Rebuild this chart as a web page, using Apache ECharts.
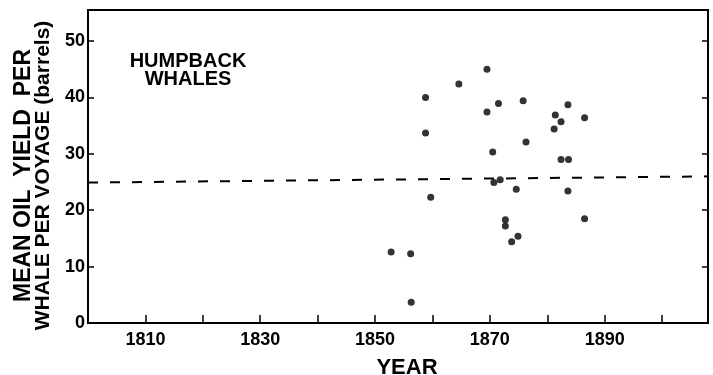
<!DOCTYPE html>
<html>
<head>
<meta charset="utf-8">
<script src="https://cdn.jsdelivr.net/npm/echarts@6/dist/echarts.min.js"></script>
<style>
html,body{margin:0;padding:0;background:#fff;}
#c{width:713px;height:375px;}
</style>
</head>
<body>
<div id="c"></div>
<script>
// Humpback whales: year, mean oil yield per whale per voyage (barrels)
const years = [1852.8, 1856.2, 1856.3, 1858.8, 1858.8, 1859.7, 1864.6, 1869.5, 1869.5, 1870.5,
               1870.7, 1871.5, 1871.8, 1872.7, 1872.7, 1873.8, 1874.6, 1874.9, 1875.8, 1876.3,
               1881.4, 1882.4, 1883.6, 1881.2, 1882.4, 1883.7, 1883.6, 1886.5, 1886.5];
const yields = [12.6, 12.3, 3.7, 40.0, 33.7, 22.3, 42.4, 45.0, 37.4, 30.3,
                24.9, 38.9, 25.4, 18.3, 17.2, 14.4, 23.7, 15.4, 39.4, 32.1,
                36.9, 35.7, 38.7, 34.4, 29.0, 29.0, 23.4, 36.4, 18.5];
// Dashed reference (trend) line end points
const trendYears = [1800, 1908];
const trendValues = [24.9, 26.0];
// Axis ticks and labels
const xTicks = [1810, 1820, 1830, 1840, 1850, 1860, 1870, 1880, 1890, 1900];
const xLabels = [1810, 1830, 1850, 1870, 1890];
const yTicks = [0, 10, 20, 30, 40, 50];

const points = years.map((y, i) => [y, yields[i]]);
const trend = trendYears.map((y, i) => [y, trendValues[i]]);

const chart = echarts.init(document.getElementById('c'));
const font = 'Liberation Sans';
chart.setOption({
  animation: false,
  backgroundColor: '#fff',
  grid: { left: 88, right: 5, top: 10, bottom: 52, containLabel: false, outerBoundsMode: 'none',
          show: true, borderColor: '#000', borderWidth: 2, backgroundColor: 'transparent' },
  xAxis: {
    type: 'value', min: 1800, max: 1908,
    name: 'YEAR', nameLocation: 'middle', nameGap: 34,
    nameTextStyle: { fontFamily: font, fontSize: 22, fontWeight: 'bold', color: '#000', padding: [0, 0, 0, 18] },
    axisLine: { show: true, lineStyle: { color: '#000', width: 2 } },
    axisTick: { show: true, inside: true, length: 8, lineStyle: { color: '#000', width: 1.5 }, customValues: xTicks },
    axisLabel: { fontFamily: font, fontSize: 18, fontWeight: 'bold', color: '#000', margin: 8, customValues: xLabels,
                 formatter: v => String(v) },
    splitLine: { show: false }
  },
  yAxis: [{
    type: 'value', min: 0, max: 55.5, position: 'left',
    name: '{a|MEAN OIL  YIELD  PER}\n{b|WHALE PER VOYAGE (barrels)}', nameLocation: 'middle', nameGap: 31,
    nameTextStyle: { fontFamily: font, fontWeight: 'bold', color: '#000', padding: [0, 18, 0, 0],
      rich: {
        a: { fontFamily: font, fontSize: 23, fontWeight: 'bold', lineHeight: 20, color: '#000' },
        b: { fontFamily: font, fontSize: 21, fontWeight: 'bold', lineHeight: 20, color: '#000' }
      } },
    axisLine: { show: true, lineStyle: { color: '#000', width: 2 } },
    axisTick: { show: true, inside: true, length: 6, lineStyle: { color: '#000', width: 1.5 }, customValues: yTicks },
    axisLabel: { fontFamily: font, fontSize: 18, fontWeight: 'bold', color: '#000', margin: 3, customValues: yTicks,
                 formatter: v => String(v) },
    splitLine: { show: false }
  }, {
    type: 'value', min: 0, max: 55.5, position: 'right',
    axisLine: { show: true, lineStyle: { color: '#000', width: 2 } },
    axisTick: { show: true, inside: true, length: 6, lineStyle: { color: '#000', width: 1.5 }, customValues: yTicks },
    axisLabel: { show: false },
    splitLine: { show: false }
  }],
  graphic: [{
    type: 'text', x: 188, y: 52,
    style: { text: 'HUMPBACK\nWHALES', fontFamily: font, fontSize: 20, fontWeight: 'bold', lineHeight: 18,
             fill: '#000', align: 'center', verticalAlign: 'top' }
  }],
  series: [{
    type: 'line', data: trend, symbol: 'none', silent: true,
    lineStyle: { color: '#000', width: 2, type: [10, 12] }
  }, {
    type: 'scatter', data: points, symbol: 'circle', symbolSize: 7,
    itemStyle: { color: '#000' }
  }]
});
</script>
</body>
</html>
